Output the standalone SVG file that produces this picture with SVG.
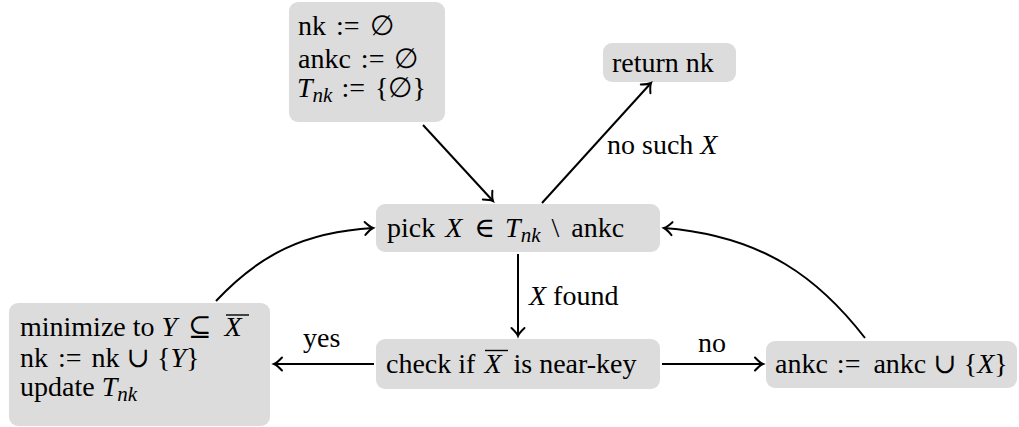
<svg xmlns="http://www.w3.org/2000/svg" width="1019" height="427" viewBox="0 0 1019 427">
<style>
.box{fill:#dcdcdc;stroke:none}
.t{font-family:'Liberation Serif','Times New Roman','DejaVu Serif',serif;font-size:28px;fill:#000}
.it{font-style:italic}
.sub{font-style:italic;font-size:21px}
.ol{stroke:#000;stroke-width:1.4}
.edge{fill:none;stroke:#000;stroke-width:2;marker-end:url(#arr)}
</style>
<defs>
<marker id="arr" markerUnits="userSpaceOnUse" markerWidth="20" markerHeight="20" viewBox="-10 -10 20 20" refX="0" refY="0" orient="auto">
<path d="M -8 -6.5 Q -3 -1.2 0 0 Q -3 1.2 -8 6.5" fill="none" stroke="#000" stroke-width="2" stroke-linecap="round"/>
</marker>
</defs>
<g id="init">
<rect class="box" x="289" y="2" width="156" height="120" rx="9"/>
<text class="t" x="298" y="35">nk <tspan dx="3">:=</tspan> <tspan dx="3">∅</tspan></text>
<text class="t" x="298" y="68">ankc <tspan dx="3">:=</tspan> <tspan dx="3">∅</tspan></text>
<text class="t" x="297" y="97"><tspan class="it">T</tspan><tspan class="sub" dy="5">nk</tspan><tspan dy="-5" dx="2"> :=</tspan> <tspan dx="3">{∅}</tspan></text>
</g>
<g id="return">
<rect class="box" x="603" y="43" width="133" height="39" rx="9"/>
<text class="t" x="612" y="72">return nk</text>
</g>
<g id="pick">
<rect class="box" x="376" y="204" width="284" height="48" rx="9"/>
<text class="t" x="387" y="237">pick <tspan class="it" dx="3">X</tspan> <tspan dx="5">∈</tspan> <tspan class="it" dx="3">T</tspan><tspan class="sub" dy="5">nk</tspan><tspan dy="-5" dx="4"> \</tspan> <tspan dx="5">ankc</tspan></text>
</g>
<g id="check">
<rect class="box" x="376" y="339" width="284" height="50" rx="9"/>
<text class="t" x="386" y="373">check if <tspan class="it" dx="2">X</tspan> <tspan dx="5">is near-key</tspan></text>
<line class="ol" x1="485" y1="350.5" x2="508" y2="350.5"/>
</g>
<g id="minimize">
<rect class="box" x="9" y="303" width="261" height="123" rx="9"/>
<text class="t" x="20" y="336">minimize to <tspan class="it">Y</tspan> <tspan dx="4">⊆</tspan> <tspan class="it" dx="6">X</tspan></text>
<line class="ol" x1="226" y1="315" x2="249" y2="315"/>
<text class="t" x="20" y="367">nk <tspan dx="3">:=</tspan> <tspan dx="3">nk</tspan> ∪ {<tspan class="it">Y</tspan>}</text>
<text class="t" x="20" y="396">update <tspan class="it">T</tspan><tspan class="sub" dy="5">nk</tspan></text>
</g>
<g id="ankc">
<rect class="box" x="766" y="341" width="251" height="47" rx="9"/>
<text class="t" x="775" y="373">ankc <tspan dx="2">:=</tspan> <tspan dx="6">ankc</tspan> ∪ {<tspan class="it">X</tspan>}</text>
</g>
<g id="connectors">
<line class="edge" x1="423" y1="125" x2="493" y2="201"/>
<line class="edge" x1="542" y1="203" x2="651" y2="83"/>
<line class="edge" x1="518" y1="254" x2="518" y2="336"/>
<line class="edge" x1="374" y1="364" x2="274" y2="364"/>
<line class="edge" x1="662" y1="364" x2="763" y2="364"/>
<path class="edge" d="M 216 301 C 260 254 305 232 373 228"/>
<path class="edge" d="M 865 338 C 820 280 765 236 664 228"/>
<text class="t" x="607" y="154">no such <tspan class="it">X</tspan></text>
<text class="t" x="529" y="305"><tspan class="it">X</tspan> found</text>
<text class="t" x="303" y="347">yes</text>
<text class="t" x="698" y="352">no</text>
</g>
</svg>
